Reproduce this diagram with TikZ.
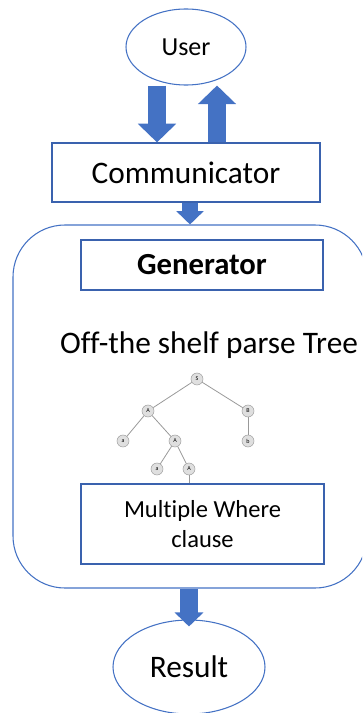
\documentclass[tikz,border=0pt]{standalone}
\usepackage{fontspec}
\setmainfont[Ligatures=NoCommon]{Carlito}
\usepackage{xcolor}
\usetikzlibrary{shapes.geometric,arrows.meta,positioning,calc}

\definecolor{lineblue}{HTML}{4472C4}
\definecolor{boxblue}{HTML}{3A62AE}
\definecolor{arrowblue}{HTML}{4472C4}

\begin{document}
\begin{tikzpicture}[x=0.75pt, y=-0.75pt,
    oval/.style={ellipse, draw=lineblue, line width=0.8pt, inner sep=0pt},
    box/.style={rectangle, draw=boxblue, line width=0.9pt, align=center, inner sep=0pt},
    bigarrow/.style={draw=arrowblue, line width=14pt, -{Triangle[length=14pt, width=28pt]}},
    smallarrow/.style={draw=arrowblue, line width=11.5pt, -{Triangle[length=10pt, width=20pt]}},
    treenode/.style={circle, draw=gray!75, fill=gray!25, minimum size=9pt, inner sep=0pt, font=\fontsize{4.5}{5}\selectfont},
    treeline/.style={draw=gray!80, line width=0.6pt}]

    \clip (0,0) rectangle (362,713);

    % User and communicator
    \node[oval, minimum width=90pt, minimum height=57pt, font=\fontsize{19.5}{22}\selectfont] (user) at (186,47) {User};
    \node[box, minimum width=201pt, minimum height=44.25pt, font=\fontsize{23.5}{28}\selectfont] (comm) at (186,172.5) {Communicator};

    % Generator container
    \node[draw=lineblue, line width=0.8pt, rounded corners=39pt, minimum width=265.5pt, minimum height=272.25pt] (gen) at (190,406.5) {};
    \node[box, minimum width=181.5pt, minimum height=37.5pt, font=\fontsize{23}{28}\selectfont\bfseries] (genbox) at (202,265) {Generator};
    \node[anchor=base, inner sep=0pt, font=\fontsize{23.5}{28}\selectfont] (title) at (209,353) {Off-the shelf parse Tree};

    % parse tree
    \node[treenode] (s) at (197,379) {S};
    \node[treenode] (a1) at (148,411) {A};
    \node[treenode] (b1) at (248,411) {B};
    \node[treenode] (x1) at (123,441) {a};
    \node[treenode] (a2) at (175,441) {A};
    \node[treenode] (y1) at (248,441) {b};
    \node[treenode] (x2) at (157,469) {a};
    \node[treenode] (a3) at (189,469) {A};

    \node[box, minimum width=182.25pt, minimum height=60pt, font=\fontsize{18.4}{22.5}\selectfont] (where) at (202.5,524) {Multiple Where\\clause};

    \draw[treeline] (s) -- (a1);
    \draw[treeline] (s) -- (b1);
    \draw[treeline] (a1) -- (x1);
    \draw[treeline] (a1) -- (a2);
    \draw[treeline] (b1) -- (y1);
    \draw[treeline] (a2) -- (x2);
    \draw[treeline] (a2) -- (a3);
    \draw[treeline] (a3) -- (a3 |- where.north);

    % Result
    \node[oval, minimum width=114pt, minimum height=70.5pt, font=\fontsize{23.5}{28}\selectfont] (result) at (189,667) {Result};

    % Arrows
    \draw[bigarrow] ([xshift=-21.75pt]user.south) -- ([xshift=-21.75pt]user.south |- comm.north);
    \draw[bigarrow] ([xshift=23.25pt]user.south |- comm.north) -- ([xshift=23.25pt]user.south);
    \draw[smallarrow] ([xshift=3pt]comm.south) -- ([xshift=3pt]comm.south |- gen.north);
    \draw[smallarrow, line width=13pt, -{Triangle[length=10.5pt, width=21pt]}] ([xshift=-0.75pt]gen.south) -- ([xshift=-0.75pt, yshift=-5.25pt]gen.south |- result.north);

\end{tikzpicture}
\end{document}
